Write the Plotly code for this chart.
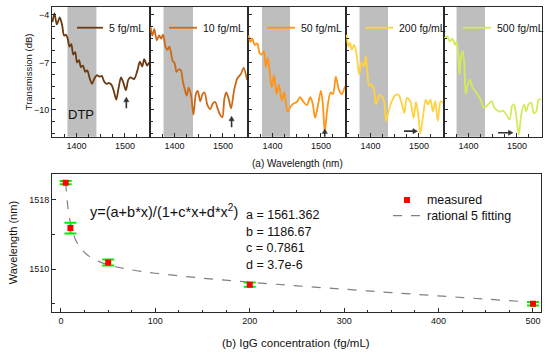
import plotly.graph_objects as go

# ---------------- data ----------------
labels = ["5 fg/mL", "10 fg/mL", "50 fg/mL", "200 fg/mL", "500 fg/mL"]

wl_5 = [1350, 1354, 1359, 1365, 1370, 1374, 1378, 1382, 1385, 1389, 1393, 1397, 1401, 1405, 1409,
        1413, 1418, 1422, 1427, 1432, 1437, 1442, 1447, 1452, 1457, 1462, 1467, 1472, 1477, 1482,
        1487, 1492, 1497, 1502, 1507, 1512, 1519, 1526, 1531, 1536, 1540, 1546, 1550]
tr_5 = [-4.45, -3.9, -4.6, -4.15, -4.65, -5.3, -5.25, -5.55, -6.0, -5.85, -6.5, -6.35, -7.0, -6.85, -7.3,
        -7.2, -7.6, -7.5, -8.0, -8.35, -8.0, -7.8, -7.9, -7.85, -8.2, -8.35, -8.3, -8.4, -8.8, -9.35,
        -8.6, -7.95, -8.3, -8.75, -8.1, -7.95, -8.05, -7.5, -6.95, -7.25, -6.8, -7.2, -7.0]

wl_10 = [1350, 1354, 1358, 1363, 1368, 1372, 1376, 1381, 1385, 1389, 1392, 1396, 1400, 1404, 1408,
         1413, 1417, 1421, 1425, 1429, 1434, 1439, 1444, 1448, 1453, 1458, 1462, 1468, 1474, 1479,
         1484, 1490, 1495, 1499, 1503, 1507, 1512, 1517, 1523, 1530, 1537, 1543, 1550]
tr_10 = [-4.75, -5.3, -4.9, -5.6, -5.3, -5.5, -5.25, -6.0, -6.2, -6.0, -6.3, -6.9, -7.05, -7.6, -7.45,
         -7.5, -8.2, -8.7, -9.1, -8.6, -9.05, -10.3, -9.0, -8.8, -9.45, -9.0, -8.9, -9.7, -9.95, -9.6,
         -9.5, -10.0, -10.35, -10.45, -9.3, -8.9, -9.3, -9.9, -8.8, -8.0, -7.75, -7.35, -8.1]

wl_50 = [1350, 1354, 1358, 1363, 1368, 1373, 1377, 1382, 1386, 1390, 1394, 1398, 1403, 1408, 1413,
         1419, 1424, 1431, 1437, 1443, 1450, 1457, 1464, 1471, 1478, 1483, 1488, 1494, 1500, 1504,
         1508, 1513, 1520, 1525, 1531, 1537, 1543, 1550]
tr_50 = [-5.3, -5.7, -5.5, -5.9, -5.8, -6.4, -6.5, -6.3, -7.3, -6.7, -7.6, -8.6, -7.8, -9.0, -8.4,
         -9.4, -8.9, -10.1, -9.8, -9.6, -9.5, -9.2, -9.5, -9.7, -9.2, -9.6, -10.5, -9.7, -8.8, -9.6,
         -11.4, -10.0, -8.9, -9.0, -7.9, -8.7, -9.0, -8.5]

wl_200 = [1350, 1354, 1357, 1361, 1366, 1371, 1376, 1381, 1386, 1390, 1393, 1397, 1401, 1406, 1411,
          1415, 1419, 1423, 1428, 1432, 1437, 1444, 1452, 1458, 1465, 1470, 1475, 1482, 1489, 1494,
          1499, 1503, 1509, 1514, 1519, 1524, 1529, 1534, 1539, 1545, 1550]
tr_200 = [-5.25, -6.0, -5.75, -6.2, -5.9, -6.5, -7.75, -7.0, -7.25, -6.6, -7.5, -8.5, -8.4, -8.6, -9.65,
          -9.25, -9.05, -9.15, -9.45, -10.7, -10.1, -9.45, -9.05, -9.05, -9.65, -10.2, -9.25, -9.45, -10.5, -9.5,
          -10.4, -11.5, -10.3, -9.35, -9.65, -9.35, -10.1, -9.45, -10.7, -9.45, -9.55]

wl_500 = [1350, 1356, 1361, 1366, 1372, 1375, 1379, 1381, 1385, 1388, 1391, 1394, 1398, 1403, 1408,
          1414, 1419, 1425, 1431, 1437, 1442, 1448, 1453, 1460, 1467, 1472, 1478, 1485, 1490, 1494,
          1498, 1504, 1509, 1515, 1519, 1524, 1530, 1535, 1540, 1545, 1550]
tr_500 = [-5.47, -5.36, -5.68, -5.5, -5.9, -5.68, -6.7, -7.75, -6.5, -6.3, -7.1, -9.0, -8.4, -8.1, -8.6,
          -8.8, -9.05, -9.35, -9.85, -9.75, -9.6, -9.45, -9.85, -10.05, -10.1, -10.05, -10.3, -10.6, -9.75, -9.65,
          -10.2, -11.55, -10.3, -9.65, -10.1, -9.65, -9.55, -10.2, -10.1, -9.35, -9.35]

# DTP band limits per panel (nm)
dtp_start = [1381, 1377, 1378, 1377, 1375]
dtp_end = [1441, 1438, 1436, 1436, 1434]

# dip markers: vertical arrows (panels 1-3), horizontal arrows (panels 4-5)
arrow_wl = [1503, 1518, 1508]
hor_arrow_from = [1469, 1461]
hor_arrow_to = [1497, 1492]

# (b) measured dip wavelength vs IgG concentration
conc = [5, 10, 50, 200, 500]
dip_wl = [1520.0, 1514.75, 1510.75, 1508.2, 1506.0]
dip_err = [0.2, 0.62, 0.35, 0.25, 0.2]

# rational 5 fitting curve values
fit_x = [5, 6, 7, 8, 10, 12, 15, 20, 30, 40, 50, 70, 100, 150, 200, 250, 300, 350, 400, 450, 500]
fit_y = [1520.04, 1518.59, 1517.49, 1516.62, 1515.35, 1514.45, 1513.52, 1512.53, 1511.47, 1510.89,
         1510.50, 1510.00, 1509.52, 1508.95, 1508.48, 1508.06, 1507.67, 1507.28, 1506.90, 1506.53, 1506.16]

fit_params = ["a = 1561.362", "b = 1186.67", "c = 0.7861", "d = 3.7e-6"]

# ---------------- style ----------------
W, H = 550, 354
FONT = "Arial, 'Liberation Sans', sans-serif"
AX = "#2a2a2a"
ARROW = "#333333"
colors = ["#6B3A10", "#CC6A18", "#FF9416", "#FFD23E", "#D5EA5A"]
wls = [wl_5, wl_10, wl_50, wl_200, wl_500]
trs = [tr_5, tr_10, tr_50, tr_200, tr_500]


def px(x):
    return x / W


def py(y):
    return 1 - y / H


panel_left = [52, 150, 248, 346, 444]
panel_w = 98
top_y0, top_y1 = 6.7, 136.7
bot_x0, bot_x1 = 52, 541
bot_y0, bot_y1 = 174, 312.3
x_rng = [1349, 1552]
y_rng = [-11.69, -3.48]
nm_per_px = (x_rng[1] - x_rng[0]) / panel_w
db_per_px = (y_rng[1] - y_rng[0]) / (top_y1 - top_y0)

fig = go.Figure()
layout = dict(
    width=W, height=H, margin=dict(l=0, r=0, t=0, b=0),
    paper_bgcolor="white", plot_bgcolor="white", showlegend=False,
    font=dict(family=FONT, size=9, color="#111"),
)

common_axis = dict(showline=True, linecolor=AX, linewidth=1, mirror=True, ticks="inside",
                   tickcolor=AX, ticklen=4, tickwidth=1, showgrid=False, zeroline=False,
                   tickfont=dict(family=FONT, size=9, color="#111"))

shapes = []
annotations = []

for i in range(5):
    k = "" if i == 0 else str(i + 1)
    xa, ya = "x" + k, "y" + k
    fig.add_trace(go.Scatter(x=wls[i], y=trs[i], mode="lines",
                             line=dict(color=colors[i], width=1.8, shape="spline", smoothing=0.8),
                             xaxis=xa, yaxis=ya, hoverinfo="skip"))
    x0 = panel_left[i]
    layout["xaxis" + k] = dict(common_axis, domain=[px(x0), px(x0 + panel_w)], range=x_rng,
                               anchor=ya, tick0=1400, dtick=100,
                               minor=dict(ticks="inside", ticklen=2.5, dtick=25, tick0=1400, tickcolor=AX))
    layout["yaxis" + k] = dict(common_axis, domain=[py(top_y1), py(top_y0)], range=y_rng,
                               anchor=xa, tick0=-4, dtick=3, showticklabels=(i == 0),
                               minor=dict(ticks="inside", ticklen=2.5, dtick=0.75, tick0=-4, tickcolor=AX))
    shapes.append(dict(type="rect", xref=xa, yref=ya + " domain", x0=dtp_start[i], x1=dtp_end[i],
                       y0=0, y1=1, fillcolor="#BEBEBE", line=dict(width=0), layer="below"))
    # in-panel legend
    if i == 0:
        l0, l1, t0 = 25, 51, 55
    else:
        l0, l1, t0 = 19, 47, 51
    shapes.append(dict(type="line", xref="paper", yref="paper", x0=px(x0 + l0), x1=px(x0 + l1),
                       y0=py(27.7), y1=py(27.7), line=dict(color=colors[i], width=1.8)))
    annotations.append(dict(text=labels[i], xref="paper", yref="paper", x=px(x0 + t0), y=py(27.7),
                            xanchor="left", yanchor="middle", showarrow=False,
                            font=dict(family=FONT, size=10.5, color="#111")))

# arrows drawn as shapes (shaft + triangular head)
head_len, head_half = 4.5, 2.6  # px
arrow_tips = [(-9.2, -9.9), (-10.4, -11.1), (-11.2, -11.9)]
for j in range(3):
    k = "" if j == 0 else str(j + 1)
    w = arrow_wl[j]
    tip, tail = arrow_tips[j]
    hl = head_len * db_per_px
    hw = head_half * nm_per_px
    shapes.append(dict(type="line", xref="x" + k, yref="y" + k, x0=w, x1=w, y0=tail, y1=tip - hl * 0.6,
                       line=dict(color=ARROW, width=1.6)))
    shapes.append(dict(type="path", xref="x" + k, yref="y" + k,
                       path=f"M {w - hw},{tip - hl} L {w},{tip} L {w + hw},{tip - hl} Z",
                       fillcolor=ARROW, line=dict(color=ARROW, width=0.5)))
hor_y = [-11.34, -11.44]
for j in range(2):
    k = str(j + 4)
    a0, a1, yy = hor_arrow_from[j], hor_arrow_to[j], hor_y[j]
    hl = head_len * nm_per_px
    hw = head_half * db_per_px
    shapes.append(dict(type="line", xref="x" + k, yref="y" + k, x0=a0, x1=a1 - hl * 0.6, y0=yy, y1=yy,
                       line=dict(color=ARROW, width=1.6)))
    shapes.append(dict(type="path", xref="x" + k, yref="y" + k,
                       path=f"M {a1 - hl},{yy - hw} L {a1},{yy} L {a1 - hl},{yy + hw} Z",
                       fillcolor=ARROW, line=dict(color=ARROW, width=0.5)))

annotations.append(dict(text="DTP", x=1408.5, y=-10.3, xref="x", yref="y", showarrow=False,
                        font=dict(family=FONT, size=13, color="#111")))

# ---------------- bottom panel ----------------
fig.add_trace(go.Scatter(x=fit_x, y=fit_y, mode="lines",
                         line=dict(color="#808080", width=1.2, dash="dash", shape="spline"),
                         xaxis="x6", yaxis="y6", hoverinfo="skip"))
fig.add_trace(go.Scatter(x=conc, y=dip_wl, mode="markers",
                         marker=dict(symbol="square", size=6, color="#FF0000"),
                         error_y=dict(type="data", array=dip_err, color="#00EE00", thickness=2, width=6),
                         xaxis="x6", yaxis="y6", hoverinfo="skip"))

layout["xaxis6"] = dict(common_axis, domain=[px(bot_x0), px(bot_x1)], range=[-9.5, 508.5], anchor="y6",
                        tick0=0, dtick=100,
                        minor=dict(ticks="inside", ticklen=2.5, dtick=25, tick0=0, tickcolor=AX))
layout["yaxis6"] = dict(common_axis, domain=[py(bot_y1), py(bot_y0)], range=[1505.0, 1521.0], anchor="x6",
                        tick0=1510, dtick=8,
                        minor=dict(ticks="inside", ticklen=2.5, dtick=4, tick0=1506, tickcolor=AX))

# bottom legend
shapes.append(dict(type="rect", xref="paper", yref="paper", x0=px(404), x1=px(410), y0=py(203), y1=py(197),
                   fillcolor="#FF0000", line=dict(width=0)))
shapes.append(dict(type="line", xref="paper", yref="paper", x0=px(393), x1=px(423), y0=py(215.7), y1=py(215.7),
                   line=dict(color="#808080", width=1.2, dash="dash")))
annotations.append(dict(text="measured", xref="paper", yref="paper", x=px(425), y=py(200),
                        xanchor="left", yanchor="middle", showarrow=False,
                        font=dict(family=FONT, size=12.4, color="#111")))
annotations.append(dict(text="rational 5 fitting", xref="paper", yref="paper", x=px(425), y=py(215.7),
                        xanchor="left", yanchor="middle", showarrow=False,
                        font=dict(family=FONT, size=12.4, color="#111")))

# formula and parameters
annotations.append(dict(text="y=(a+b*x)/(1+c*x+d*x<sup>2</sup>)", xref="paper", yref="paper",
                        x=px(88), y=py(210.5), xanchor="left", yanchor="middle", showarrow=False,
                        font=dict(family=FONT, size=14.5, color="#111")))
for j, t in enumerate(fit_params):
    annotations.append(dict(text=t, xref="paper", yref="paper", x=px(244), y=py(215 + 16.5 * j),
                            xanchor="left", yanchor="middle", showarrow=False,
                            font=dict(family=FONT, size=12.5, color="#111")))

# axis titles
annotations += [
    dict(text="Transmission (dB)", xref="paper", yref="paper", x=px(28.3), y=py(72), textangle=-90,
         showarrow=False, xanchor="center", yanchor="middle", font=dict(family=FONT, size=9.5, color="#111")),
    dict(text="(a) Wavelength (nm)", xref="paper", yref="paper", x=px(297), y=py(163),
         showarrow=False, xanchor="center", yanchor="middle", font=dict(family=FONT, size=10, color="#111")),
    dict(text="Wavelength (nm)", xref="paper", yref="paper", x=px(13.3), y=py(243), textangle=-90,
         showarrow=False, xanchor="center", yanchor="middle", font=dict(family=FONT, size=11, color="#111")),
    dict(text="(b) IgG concentration (fg/mL)", xref="paper", yref="paper", x=px(296), y=py(342.7),
         showarrow=False, xanchor="center", yanchor="middle", font=dict(family=FONT, size=11.5, color="#111")),
]

layout["shapes"] = shapes
layout["annotations"] = annotations
fig.update_layout(**layout)
fig.write_html("out.html", config={"displayModeBar": False},
               post_script="document.body.style.margin='0';document.body.style.overflow='hidden';")
